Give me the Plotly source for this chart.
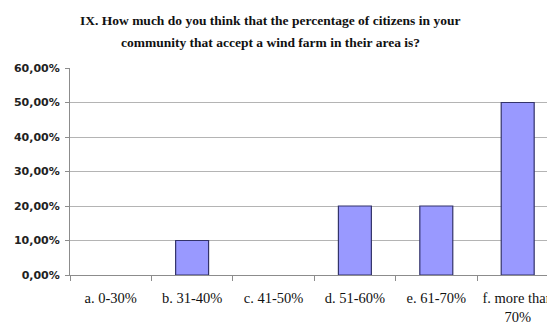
import plotly.graph_objects as go

# Survey answers and share of respondents
categories = ["a. 0-30%", "b. 31-40%", "c. 41-50%", "d. 51-60%", "e. 61-70%", "f. more than<br>70%"]
shares = [0.0, 0.10, 0.0, 0.20, 0.20, 0.50]
y_ticks = [0.0, 0.1, 0.2, 0.3, 0.4, 0.5, 0.6]

title_lines = [
    "IX. How much do you think that the percentage of citizens in your",
    "community that accept a wind farm in their area is?",
]

# empty answers get no outline so nothing is drawn for them
outline_widths = [1.2 if v > 0 else 0 for v in shares]

fig = go.Figure(
    go.Bar(
        x=categories,
        y=shares,
        width=0.405,
        marker=dict(color="#9999FF", line=dict(color="#33336A", width=outline_widths)),
    )
)

plot_left = 70
plot_top, plot_bottom = 68, 275
plot_h = plot_bottom - plot_top

fig.update_layout(
    width=547,
    height=324,
    margin=dict(l=plot_left, r=0, t=plot_top, b=324 - plot_bottom),
    paper_bgcolor="white",
    plot_bgcolor="white",
    separators=",.",
    showlegend=False,
)

for line, py in zip(title_lines, [20, 43]):
    fig.add_annotation(
        text=line,
        xref="paper", yref="paper",
        x=(270 - plot_left) / (547 - plot_left), y=(plot_bottom - py) / plot_h,
        xanchor="center", yanchor="middle",
        showarrow=False,
        font=dict(family="Liberation Serif", size=13.5, color="#111111", weight="bold"),
    )

# the last category runs past the right edge of the chart, as on the printed page
fig.update_xaxes(
    type="category",
    range=[-0.5, 5.36],
    automargin=False,
    showline=True,
    linecolor="#8c8c8c",
    linewidth=1,
    ticks="outside",
    tickson="boundaries",
    ticklen=5,
    tickcolor="#8c8c8c",
    ticklabelstandoff=10,
    showgrid=False,
    tickfont=dict(family="Liberation Serif", size=14.5, color="#111111"),
)

fig.update_yaxes(
    range=[0, 0.6],
    tickvals=y_ticks,
    tickformat=".2%",
    automargin=False,
    showline=True,
    linecolor="#8c8c8c",
    linewidth=1,
    ticks="outside",
    ticklen=4,
    tickcolor="#8c8c8c",
    ticklabelstandoff=3,
    showgrid=True,
    gridcolor="#b4b4b4",
    gridwidth=1,
    zeroline=False,
    tickfont=dict(family="DejaVu Sans", size=11, color="#222222", weight="bold"),
)

fig.write_html("out.html")
